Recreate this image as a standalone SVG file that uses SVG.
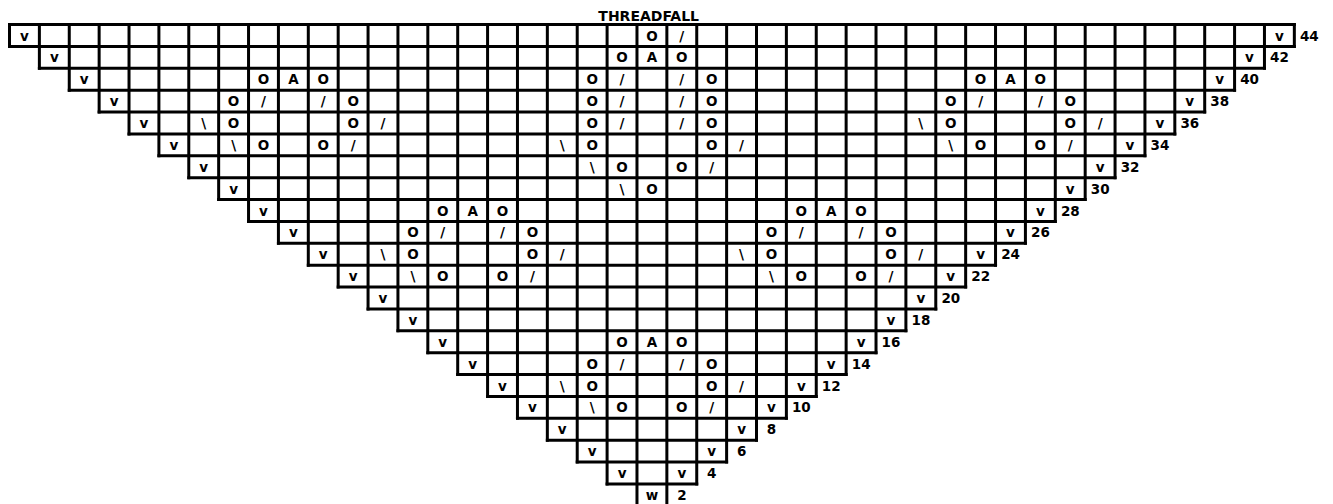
<svg xmlns="http://www.w3.org/2000/svg" width="1333" height="504" viewBox="0 0 1333 504">
<style>
text{font-family:"DejaVu Sans",Verdana,sans-serif;font-weight:bold;font-size:13.5px;fill:#000;text-anchor:middle}
.t{font-size:14px}
.g{fill:none;stroke:#000;stroke-width:3;stroke-linecap:square}
</style>
<rect width="1333" height="504" fill="#fff"/>
<text class="t" x="648.7" y="20.5">THREADFALL</text>
<g id="grid">
<path class="g" d="M9.5 24.5H1294.34M9.5 46.375H1294.34M39.38 68.25H1264.46M69.26 90.125H1234.58M99.14 112H1204.7M129.02 133.875H1174.82M158.9 155.75H1144.94M188.78 177.625H1115.06M218.66 199.5H1085.18M248.54 221.375H1055.3M278.42 243.25H1025.42M308.3 265.125H995.54M338.18 287H965.66M368.06 308.875H935.78M397.94 330.75H905.9M427.82 352.625H876.02M457.7 374.5H846.14M487.58 396.375H816.26M517.46 418.25H786.38M547.34 440.125H756.5M577.22 462H726.62M607.1 483.875H696.74M636.98 505.75H666.86"/>
<path class="g" d="M9.5 24.5V46.375M39.38 24.5V68.25M69.26 24.5V90.125M99.14 24.5V112M129.02 24.5V133.875M158.9 24.5V155.75M188.78 24.5V177.625M218.66 24.5V199.5M248.54 24.5V221.375M278.42 24.5V243.25M308.3 24.5V265.125M338.18 24.5V287M368.06 24.5V308.875M397.94 24.5V330.75M427.82 24.5V352.625M457.7 24.5V374.5M487.58 24.5V396.375M517.46 24.5V418.25M547.34 24.5V440.125M577.22 24.5V462M607.1 24.5V483.875M636.98 24.5V505.75M666.86 24.5V505.75M696.74 24.5V483.875M726.62 24.5V462M756.5 24.5V440.125M786.38 24.5V418.25M816.26 24.5V396.375M846.14 24.5V374.5M876.02 24.5V352.625M905.9 24.5V330.75M935.78 24.5V308.875M965.66 24.5V287M995.54 24.5V265.125M1025.42 24.5V243.25M1055.3 24.5V221.375M1085.18 24.5V199.5M1115.06 24.5V177.625M1144.94 24.5V155.75M1174.82 24.5V133.875M1204.7 24.5V112M1234.58 24.5V90.125M1264.46 24.5V68.25M1294.34 24.5V46.375"/>
</g>
<g id="row-44"><text x="24.44" y="40.5">v</text><text x="651.92" y="40.5">O</text><text x="681.8" y="40.5">/</text><text x="1279.4" y="40.5">v</text><text x="1309.34" y="40.5">44</text></g>
<g id="row-42"><text x="54.32" y="62.4">v</text><text x="622.04" y="62.4">O</text><text x="651.92" y="62.4">A</text><text x="681.8" y="62.4">O</text><text x="1249.52" y="62.4">v</text><text x="1279.46" y="62.4">42</text></g>
<g id="row-40"><text x="84.2" y="84.25">v</text><text x="263.48" y="84.25">O</text><text x="293.36" y="84.25">A</text><text x="323.24" y="84.25">O</text><text x="592.16" y="84.25">O</text><text x="622.04" y="84.25">/</text><text x="681.8" y="84.25">/</text><text x="711.68" y="84.25">O</text><text x="980.6" y="84.25">O</text><text x="1010.48" y="84.25">A</text><text x="1040.36" y="84.25">O</text><text x="1219.64" y="84.25">v</text><text x="1249.58" y="84.25">40</text></g>
<g id="row-38"><text x="114.08" y="106.1">v</text><text x="233.6" y="106.1">O</text><text x="263.48" y="106.1">/</text><text x="323.24" y="106.1">/</text><text x="353.12" y="106.1">O</text><text x="592.16" y="106.1">O</text><text x="622.04" y="106.1">/</text><text x="681.8" y="106.1">/</text><text x="711.68" y="106.1">O</text><text x="950.72" y="106.1">O</text><text x="980.6" y="106.1">/</text><text x="1040.36" y="106.1">/</text><text x="1070.24" y="106.1">O</text><text x="1189.76" y="106.1">v</text><text x="1219.7" y="106.1">38</text></g>
<g id="row-36"><text x="143.96" y="128">v</text><text x="203.72" y="128">\</text><text x="233.6" y="128">O</text><text x="353.12" y="128">O</text><text x="383" y="128">/</text><text x="592.16" y="128">O</text><text x="622.04" y="128">/</text><text x="681.8" y="128">/</text><text x="711.68" y="128">O</text><text x="920.84" y="128">\</text><text x="950.72" y="128">O</text><text x="1070.24" y="128">O</text><text x="1100.12" y="128">/</text><text x="1159.88" y="128">v</text><text x="1189.82" y="128">36</text></g>
<g id="row-34"><text x="173.84" y="149.9">v</text><text x="233.6" y="149.9">\</text><text x="263.48" y="149.9">O</text><text x="323.24" y="149.9">O</text><text x="353.12" y="149.9">/</text><text x="562.28" y="149.9">\</text><text x="592.16" y="149.9">O</text><text x="711.68" y="149.9">O</text><text x="741.56" y="149.9">/</text><text x="950.72" y="149.9">\</text><text x="980.6" y="149.9">O</text><text x="1040.36" y="149.9">O</text><text x="1070.24" y="149.9">/</text><text x="1130" y="149.9">v</text><text x="1159.94" y="149.9">34</text></g>
<g id="row-32"><text x="203.72" y="171.75">v</text><text x="592.16" y="171.75">\</text><text x="622.04" y="171.75">O</text><text x="681.8" y="171.75">O</text><text x="711.68" y="171.75">/</text><text x="1100.12" y="171.75">v</text><text x="1130.06" y="171.75">32</text></g>
<g id="row-30"><text x="233.6" y="193.6">v</text><text x="622.04" y="193.6">\</text><text x="651.92" y="193.6">O</text><text x="1070.24" y="193.6">v</text><text x="1100.18" y="193.6">30</text></g>
<g id="row-28"><text x="263.48" y="215.5">v</text><text x="442.76" y="215.5">O</text><text x="472.64" y="215.5">A</text><text x="502.52" y="215.5">O</text><text x="801.32" y="215.5">O</text><text x="831.2" y="215.5">A</text><text x="861.08" y="215.5">O</text><text x="1040.36" y="215.5">v</text><text x="1070.3" y="215.5">28</text></g>
<g id="row-26"><text x="293.36" y="237.4">v</text><text x="412.88" y="237.4">O</text><text x="442.76" y="237.4">/</text><text x="502.52" y="237.4">/</text><text x="532.4" y="237.4">O</text><text x="771.44" y="237.4">O</text><text x="801.32" y="237.4">/</text><text x="861.08" y="237.4">/</text><text x="890.96" y="237.4">O</text><text x="1010.48" y="237.4">v</text><text x="1040.42" y="237.4">26</text></g>
<g id="row-24"><text x="323.24" y="259.25">v</text><text x="383" y="259.25">\</text><text x="412.88" y="259.25">O</text><text x="532.4" y="259.25">O</text><text x="562.28" y="259.25">/</text><text x="741.56" y="259.25">\</text><text x="771.44" y="259.25">O</text><text x="890.96" y="259.25">O</text><text x="920.84" y="259.25">/</text><text x="980.6" y="259.25">v</text><text x="1010.54" y="259.25">24</text></g>
<g id="row-22"><text x="353.12" y="281.1">v</text><text x="412.88" y="281.1">\</text><text x="442.76" y="281.1">O</text><text x="502.52" y="281.1">O</text><text x="532.4" y="281.1">/</text><text x="771.44" y="281.1">\</text><text x="801.32" y="281.1">O</text><text x="861.08" y="281.1">O</text><text x="890.96" y="281.1">/</text><text x="950.72" y="281.1">v</text><text x="980.66" y="281.1">22</text></g>
<g id="row-20"><text x="383" y="303">v</text><text x="920.84" y="303">v</text><text x="950.78" y="303">20</text></g>
<g id="row-18"><text x="412.88" y="324.9">v</text><text x="890.96" y="324.9">v</text><text x="920.9" y="324.9">18</text></g>
<g id="row-16"><text x="442.76" y="346.75">v</text><text x="622.04" y="346.75">O</text><text x="651.92" y="346.75">A</text><text x="681.8" y="346.75">O</text><text x="861.08" y="346.75">v</text><text x="891.02" y="346.75">16</text></g>
<g id="row-14"><text x="472.64" y="368.6">v</text><text x="592.16" y="368.6">O</text><text x="622.04" y="368.6">/</text><text x="681.8" y="368.6">/</text><text x="711.68" y="368.6">O</text><text x="831.2" y="368.6">v</text><text x="861.14" y="368.6">14</text></g>
<g id="row-12"><text x="502.52" y="390.5">v</text><text x="562.28" y="390.5">\</text><text x="592.16" y="390.5">O</text><text x="711.68" y="390.5">O</text><text x="741.56" y="390.5">/</text><text x="801.32" y="390.5">v</text><text x="831.26" y="390.5">12</text></g>
<g id="row-10"><text x="532.4" y="412.4">v</text><text x="592.16" y="412.4">\</text><text x="622.04" y="412.4">O</text><text x="681.8" y="412.4">O</text><text x="711.68" y="412.4">/</text><text x="771.44" y="412.4">v</text><text x="801.38" y="412.4">10</text></g>
<g id="row-8"><text x="562.28" y="434.25">v</text><text x="741.56" y="434.25">v</text><text x="771.5" y="434.25">8</text></g>
<g id="row-6"><text x="592.16" y="456.1">v</text><text x="711.68" y="456.1">v</text><text x="741.62" y="456.1">6</text></g>
<g id="row-4"><text x="622.04" y="478">v</text><text x="681.8" y="478">v</text><text x="711.74" y="478">4</text></g>
<g id="row-2"><text x="651.92" y="499.9">w</text><text x="681.86" y="499.9">2</text></g>
</svg>
